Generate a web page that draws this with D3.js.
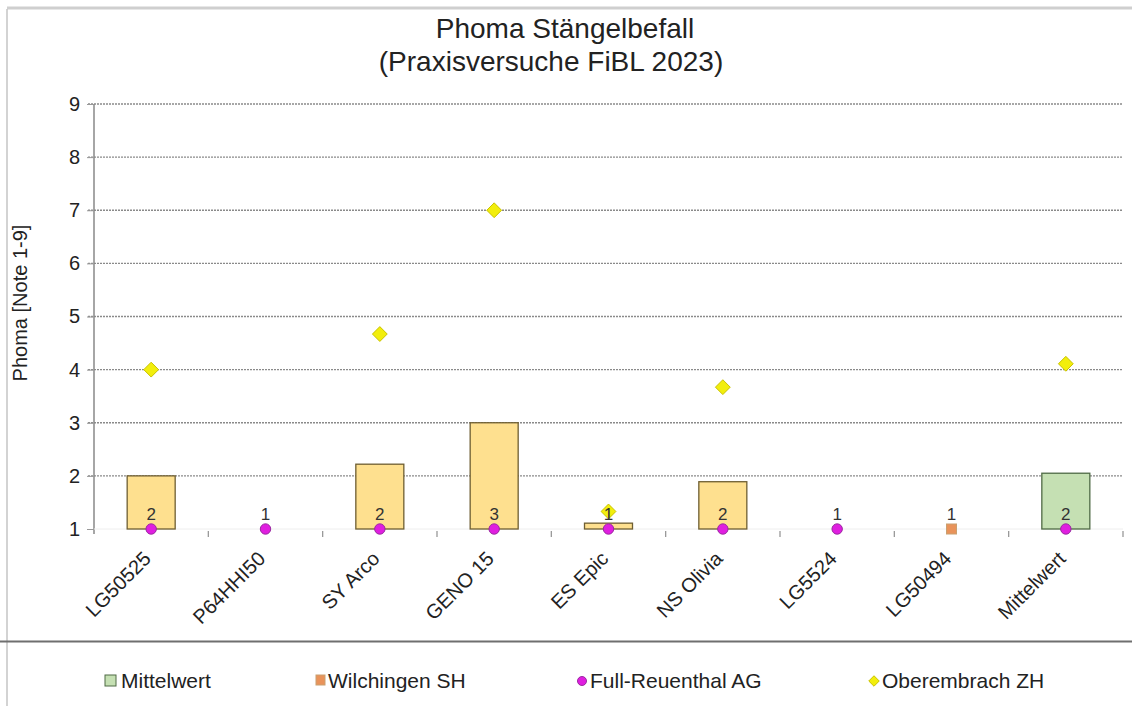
<!DOCTYPE html>
<html>
<head>
<meta charset="utf-8">
<script src="https://cdn.jsdelivr.net/npm/d3@7"></script>
<style>
  html, body { margin: 0; padding: 0; background: #fff; }
  svg { display: block; font-family: "Liberation Sans", Arial, sans-serif; }
</style>
</head>
<body>
<svg id="chart" width="1132" height="706"></svg>
<script>
// ---- data ----
const categories = ["LG50525", "P64HHI50", "SY Arco", "GENO 15", "ES Epic", "NS Olivia", "LG5524", "LG50494", "Mittelwert"];
const meanValues = [2.0, 1.0, 2.22, 3.0, 1.11, 1.89, 1.0, 1.0, 2.05];
const meanLabels = ["2", "1", "2", "3", "1", "2", "1", "1", "2"];
const wilchingen = [null, null, null, null, null, null, null, 1.0, null];
const fullReuenthal = [1.0, 1.0, 1.0, 1.0, 1.0, 1.0, 1.0, null, 1.0];
const oberembrach = [4.0, null, 4.67, 7.0, 1.33, 3.67, null, null, 4.11];
const yTicks = [1, 2, 3, 4, 5, 6, 7, 8, 9];
const legendItems = ["Mittelwert", "Wilchingen SH", "Full-Reuenthal AG", "Oberembrach ZH"];

const svg = d3.select("#chart");

// frame
svg.append("line").attr("x1", 7).attr("x2", 1132).attr("y1", 8).attr("y2", 8)
  .attr("stroke", "#cfcfcf").attr("stroke-width", 3);
svg.append("line").attr("x1", 7).attr("x2", 7).attr("y1", 9).attr("y2", 706)
  .attr("stroke", "#c4c4c4").attr("stroke-width", 1.5);
svg.append("line").attr("x1", 0).attr("x2", 1132).attr("y1", 641.5).attr("y2", 641.5)
  .attr("stroke", "#6f6f6f").attr("stroke-width", 2);

// title
svg.append("text").attr("x", 565).attr("y", 38).attr("text-anchor", "middle")
  .attr("font-size", 28).attr("fill", "#222").text("Phoma Stängelbefall");
svg.append("text").attr("x", 551).attr("y", 71).attr("text-anchor", "middle")
  .attr("font-size", 28).attr("fill", "#222").text("(Praxisversuche FiBL 2023)");

// scales
const x = d3.scaleBand().domain(categories).range([94, 1123]).padding(0);
const y = d3.scaleLinear().domain([1, 9]).range([529, 104]);
const barW = 48;
const cx = (i) => x(categories[i]) + x.bandwidth() / 2;

// gridlines
svg.append("g").selectAll("line").data(yTicks.filter(d => d > 1)).join("line")
  .attr("x1", 88).attr("x2", 1123)
  .attr("y1", d => y(d)).attr("y2", d => y(d))
  .attr("stroke", "#8a8a8a").attr("stroke-width", 1.3).attr("stroke-dasharray", "2,1");

// y axis
const yAxis = d3.axisLeft(y).tickValues(yTicks).tickSize(7).tickPadding(7).tickFormat(d3.format("d"));
const gy = svg.append("g").attr("transform", "translate(94,0)").call(yAxis);
gy.select(".domain").attr("stroke", "#888").attr("stroke-width", 1.5).attr("d", "M-0,104V534");
gy.selectAll(".tick line").attr("stroke", "#999");
gy.selectAll(".tick text").attr("font-size", 20).attr("fill", "#222")
  .attr("font-family", "Liberation Sans, Arial, sans-serif");

svg.append("text").attr("transform", "translate(27,303) rotate(-90)")
  .attr("text-anchor", "middle").attr("font-size", 20).attr("fill", "#222")
  .text("Phoma [Note 1-9]");

// x axis baseline and ticks at band boundaries
svg.append("line").attr("x1", 94).attr("x2", 1123).attr("y1", y(1)).attr("y2", y(1))
  .attr("stroke", "#eeeeee").attr("stroke-width", 1);
const bounds = categories.slice(1).map(c => x(c)).concat([x.range()[1]]);
svg.append("g").selectAll("line").data(bounds).join("line")
  .attr("x1", d => d).attr("x2", d => d).attr("y1", 531).attr("y2", 537)
  .attr("stroke", "#999").attr("stroke-width", 1.3);

// x labels
svg.append("g").selectAll("text").data(categories).join("text")
  .attr("transform", d => `translate(${x(d) + x.bandwidth() / 2 + 1},560) rotate(-45)`)
  .attr("text-anchor", "end").attr("font-size", 20).attr("fill", "#222")
  .text(d => d);

// bars
const barData = meanValues.map((v, i) => ({ v, i })).filter(d => d.v > 1);
svg.append("g").selectAll("rect").data(barData).join("rect")
  .attr("x", d => cx(d.i) - barW / 2)
  .attr("width", barW)
  .attr("y", d => y(d.v))
  .attr("height", d => y(1) - y(d.v))
  .attr("fill", d => categories[d.i] === "Mittelwert" ? "#c5e0b3" : "#fee08f")
  .attr("stroke", d => categories[d.i] === "Mittelwert" ? "#4f6a45" : "#6e5e32")
  .attr("stroke-width", 1.3);

// Oberembrach diamonds
const diamond = d3.symbol().type(d3.symbolDiamond2).size(140);
svg.append("g").selectAll("path")
  .data(oberembrach.map((v, i) => ({ v, i })).filter(d => d.v != null)).join("path")
  .attr("d", diamond)
  .attr("transform", d => `translate(${cx(d.i)},${y(d.v)})`)
  .attr("fill", "#f2ee0c").attr("stroke", "#c9c200").attr("stroke-width", 1);

// Wilchingen squares
svg.append("g").selectAll("rect")
  .data(wilchingen.map((v, i) => ({ v, i })).filter(d => d.v != null)).join("rect")
  .attr("x", d => cx(d.i) - 5).attr("y", d => y(d.v) - 5)
  .attr("width", 10).attr("height", 10)
  .attr("fill", "#e9935a").attr("stroke", "#c9a070").attr("stroke-width", 1);

// Full-Reuenthal circles
svg.append("g").selectAll("circle")
  .data(fullReuenthal.map((v, i) => ({ v, i })).filter(d => d.v != null)).join("circle")
  .attr("cx", d => cx(d.i)).attr("cy", d => y(d.v)).attr("r", 5.2)
  .attr("fill", "#e01ee0").attr("stroke", "#9a2aa0").attr("stroke-width", 1);

// data labels (drawn on top)
svg.append("g").selectAll("text").data(meanLabels).join("text")
  .attr("x", (d, i) => cx(i)).attr("y", 520)
  .attr("text-anchor", "middle").attr("font-size", 17).attr("fill", "#333")
  .text(d => d);

// legend
const legX = [105, 316, 578, 870];
const lg = svg.append("g");
legendItems.forEach((name, k) => {
  const g = lg.append("g").attr("transform", `translate(${legX[k]},680)`);
  if (k === 0) {
    g.append("rect").attr("x", 0).attr("y", -5).attr("width", 11).attr("height", 11)
      .attr("fill", "#c5e0b3").attr("stroke", "#4f6a45").attr("stroke-width", 1);
  } else if (k === 1) {
    g.append("rect").attr("x", 0).attr("y", -5).attr("width", 9).attr("height", 10)
      .attr("fill", "#e9935a").attr("stroke", "#c9a070").attr("stroke-width", 1);
  } else if (k === 2) {
    g.append("circle").attr("cx", 4).attr("cy", 1).attr("r", 4.5)
      .attr("fill", "#e01ee0").attr("stroke", "#9a2aa0").attr("stroke-width", 1);
  } else {
    g.append("path").attr("d", d3.symbol().type(d3.symbolDiamond2).size(70))
      .attr("transform", "translate(4,1)")
      .attr("fill", "#f2ee0c").attr("stroke", "#c9c200").attr("stroke-width", 1);
  }
  g.append("text").attr("x", k === 0 ? 16 : 12).attr("y", 8)
    .attr("font-size", 21).attr("fill", "#222").text(name);
});
</script>
</body>
</html>
